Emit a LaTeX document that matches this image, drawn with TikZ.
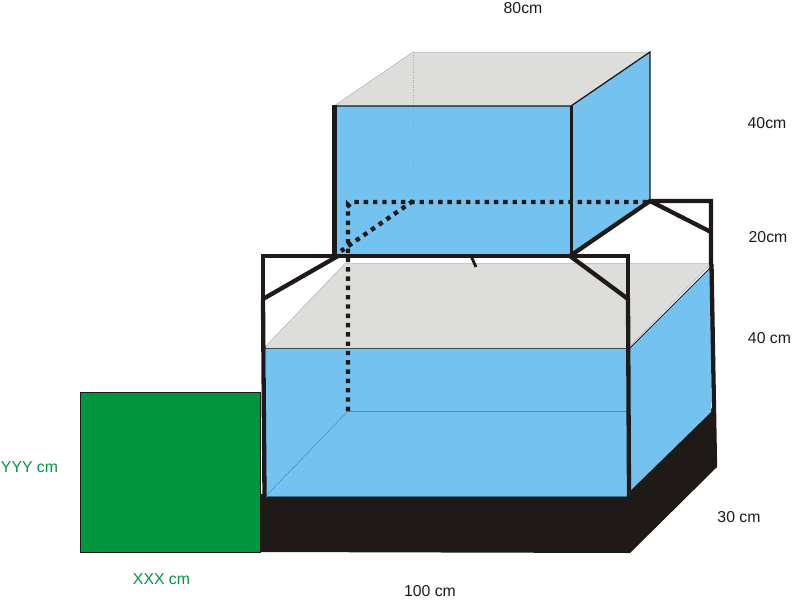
\documentclass[tikz,border=0pt]{standalone}
\usepackage{fontspec}
\setmainfont{Liberation Sans}
\definecolor{wblue}{HTML}{73C2F0}
\definecolor{wgray}{HTML}{DDDDDC}
\definecolor{wblack}{HTML}{1F1A17}
\definecolor{wgreen}{HTML}{009640}
\definecolor{wedge}{HTML}{4A8DB5}
\tikzset{
  lbl/.style={font=\fontsize{15.8}{18}\selectfont,text=wblack,inner sep=0pt},
  glbl/.style={font=\fontsize{15.8}{18}\selectfont,text=wgreen,inner sep=0pt},
  heavy/.style={draw=wblack,line width=4.3pt,line cap=butt,line join=miter},
  medium/.style={draw=wblack,line width=2.8pt},
  dots/.style={draw=wblack,line width=4.4pt,dash pattern=on 4.4pt off 4.9pt},
  thin edge/.style={draw=wedge,line width=0.5pt}
}
\begin{document}
\begin{tikzpicture}[x=1pt,y=-1pt]
\useasboundingbox (0,0) rectangle (800,600);
\fill[white] (0,0) rectangle (800,600);
% lower gray top
\fill[wgray,draw=black!30,line width=0.5pt] (264,348) -- (345,263.5) -- (711,263.5) -- (628,348) -- cycle;
% base
\fill[wblack] (260,494) -- (630,488) -- (712,408) -- (717,467) -- (630,553) -- (260,552) -- cycle;
% lower blue
\fill[wblue] (266,348) rectangle (627,496);
\fill[wblue] (630,348) -- (711,267) -- (711,412) -- (630,491) -- cycle;
\draw[draw=wblack,line width=1pt] (630,348) -- (711,267);
\draw[draw=black!70,line width=0.8pt] (264,348) -- (628,348);
\draw[thin edge] (348,411) -- (627,411);
\draw[thin edge] (348,411) -- (266,496);
\draw[draw=wedge!80!black,line width=0.8pt] (266,496) -- (627,496);
% green
\fill[wgreen,draw=wblack,line width=0.5pt] (80,392) rectangle (260,552);
% upper box
\fill[wgray,draw=black!30,line width=0.5pt] (334,106) -- (413,52) -- (650,52) -- (571,106) -- cycle;
\fill[wblue] (334,106) rectangle (571,256);
\fill[wblue] (571,106) -- (650,52) -- (650,201) -- (571,256) -- cycle;
\draw[draw=black!35,line width=0.7pt,dash pattern=on 1pt off 1.5pt] (413,52) -- (413,200);
\draw[draw=wblack,line width=1.3pt] (334,106) -- (571,106) -- (650,52) -- (650,201);
\draw[heavy] (334.5,105) -- (334.5,256);
\draw[medium] (571.5,106) -- (571.5,256);
% frame
\draw[heavy] (263,301) -- (263,256) -- (628,256) -- (628,300);
\draw[heavy] (263,299) -- (338,256);
\draw[heavy] (570,256) -- (628,299);
\draw[heavy] (570,256) -- (650,201) -- (711,201) -- (711,265);
\draw[heavy] (650,201) -- (711,232);
\draw[heavy] (263,300) -- (264.5,496);
\draw[heavy] (628,298) -- (629,496);
\draw[medium] (471,256) -- (476,267);
\draw[heavy] (711.5,264) -- (715,467);
% dotted
\draw[dots] (348,411) -- (348,208) -- ++(0,-3) to[out=-90,in=180] (353,202) -- (650,202);
\draw[dots] (413,201) -- (341,251);
% labels
\node[lbl] (a) at (523,8) {80cm};
\node[lbl] (b) at (767,123) {40cm};
\node[lbl] (c) at (768,237) {20cm};
\node[lbl] (d) at (769.5,338) {40 cm};
\node[lbl] (e) at (739,517) {30 cm};
\node[lbl] (f) at (430,591) {100 cm};
\node[glbl] (g) at (161.5,579) {XXX cm};
\node[glbl] (h) at (29.5,467) {YYY cm};
\end{tikzpicture}
\end{document}
